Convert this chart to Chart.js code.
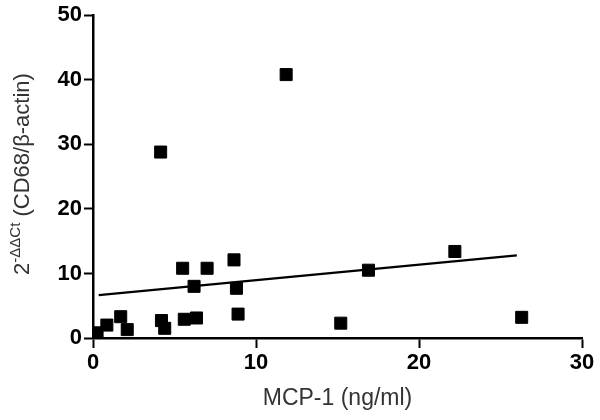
<!DOCTYPE html>
<html lang="en">
<head>
    <meta charset="UTF-8">
    <title>CD68 vs MCP-1</title>
    <script src="https://cdn.jsdelivr.net/npm/chart.js"></script>
    <style>
        body {
            margin: 0;
            padding: 0;
            background: #ffffff;
        }
        #wrap {
            width: 600px;
            height: 420px;
        }
    </style>
</head>
<body>
    <div id="wrap"><canvas id="scatterChart" width="600" height="420"></canvas></div>

    <script>
        // values
        const mcp1 = [0.25, 0.85, 1.7, 2.1, 4.15, 4.2, 4.4, 5.5, 5.6, 6.2, 6.35, 7.0, 8.65, 8.8, 8.9, 11.85, 15.2, 16.9, 22.2, 26.3];
        const cd68 = [0.8, 2.0, 3.3, 1.3, 28.8, 2.7, 1.5, 10.8, 2.9, 8.0, 3.1, 10.8, 12.1, 7.7, 3.7, 40.8, 2.3, 10.5, 13.4, 3.2];

        // regression line end points
        const fitX = [0.35, 26.0];
        const fitY = [6.65, 12.8];

        const xTicks = [0, 10, 20, 30];
        const yTicks = [0, 10, 20, 30, 40, 50];

        const points = mcp1.map((x, i) => ({ x: x, y: cd68[i] }));
        const fitLine = fitX.map((x, i) => ({ x: x, y: fitY[i] }));

        const tickFont = { family: 'Arial, "Liberation Sans", sans-serif', size: 22, weight: 'bold' };

        // axis titles drawn by hand so the superscript works
        const axisTitles = {
            id: 'axisTitles',
            afterDraw(chart) {
                const ctx = chart.ctx;
                const area = chart.chartArea;
                ctx.save();
                ctx.fillStyle = '#333333';

                // x title
                ctx.font = '23px Arial, "Liberation Sans", sans-serif';
                ctx.textAlign = 'center';
                ctx.textBaseline = 'middle';
                ctx.fillText('MCP-1 (ng/ml)', (area.left + area.right) / 2, 399);

                // y title, rotated
                const big = '22px Arial, "Liberation Sans", sans-serif';
                const small = '15px Arial, "Liberation Sans", sans-serif';
                const parts = [
                    { t: '2', f: big, dy: 0 },
                    { t: '-ΔΔCt', f: small, dy: -7 },
                    { t: ' (CD68/β-actin)', f: big, dy: 0 }
                ];
                let total = 0;
                parts.forEach(p => { ctx.font = p.f; p.w = ctx.measureText(p.t).width; total += p.w; });
                ctx.translate(23, 174);
                ctx.rotate(-Math.PI / 2);
                ctx.textAlign = 'left';
                ctx.textBaseline = 'middle';
                let pos = -total / 2;
                parts.forEach(p => {
                    ctx.font = p.f;
                    ctx.fillText(p.t, pos, p.dy);
                    pos += p.w;
                });
                ctx.restore();
            }
        };

        const chart = new Chart(document.getElementById('scatterChart'), {
            type: 'scatter',
            data: {
                datasets: [
                    {
                        label: 'CD68',
                        data: points,
                        pointStyle: 'rect',
                        pointRadius: 8.5,
                        pointBorderWidth: 1,
                        backgroundColor: '#000',
                        borderColor: '#000'
                    },
                    {
                        label: 'fit',
                        type: 'line',
                        data: fitLine,
                        borderColor: '#000',
                        borderWidth: 2.2,
                        pointRadius: 0,
                        fill: false
                    }
                ]
            },
            options: {
                responsive: false,
                animation: false,
                layout: { padding: { left: 0, right: 18, top: 14, bottom: 0 } },
                plugins: {
                    legend: { display: false },
                    tooltip: { enabled: false }
                },
                scales: {
                    x: {
                        type: 'linear',
                        min: 0,
                        max: 30,
                        afterFit: s => { s.height = 82; },
                        afterBuildTicks: s => { s.ticks = xTicks.map(v => ({ value: v })); },
                        border: { color: '#000', width: 2.5 },
                        grid: { drawOnChartArea: false, tickLength: 10, tickWidth: 2, tickColor: '#000' },
                        ticks: { color: '#000', padding: 2, font: tickFont }
                    },
                    y: {
                        min: 0,
                        max: 50,
                        afterFit: s => { s.width = 93; },
                        afterBuildTicks: s => { s.ticks = yTicks.map(v => ({ value: v })); },
                        border: { color: '#000', width: 2.5 },
                        grid: { drawOnChartArea: false, tickLength: 9, tickWidth: 2, tickColor: '#000' },
                        ticks: { color: '#000', padding: 2, font: tickFont }
                    }
                }
            },
            plugins: [axisTitles]
        });
    </script>
</body>
</html>
